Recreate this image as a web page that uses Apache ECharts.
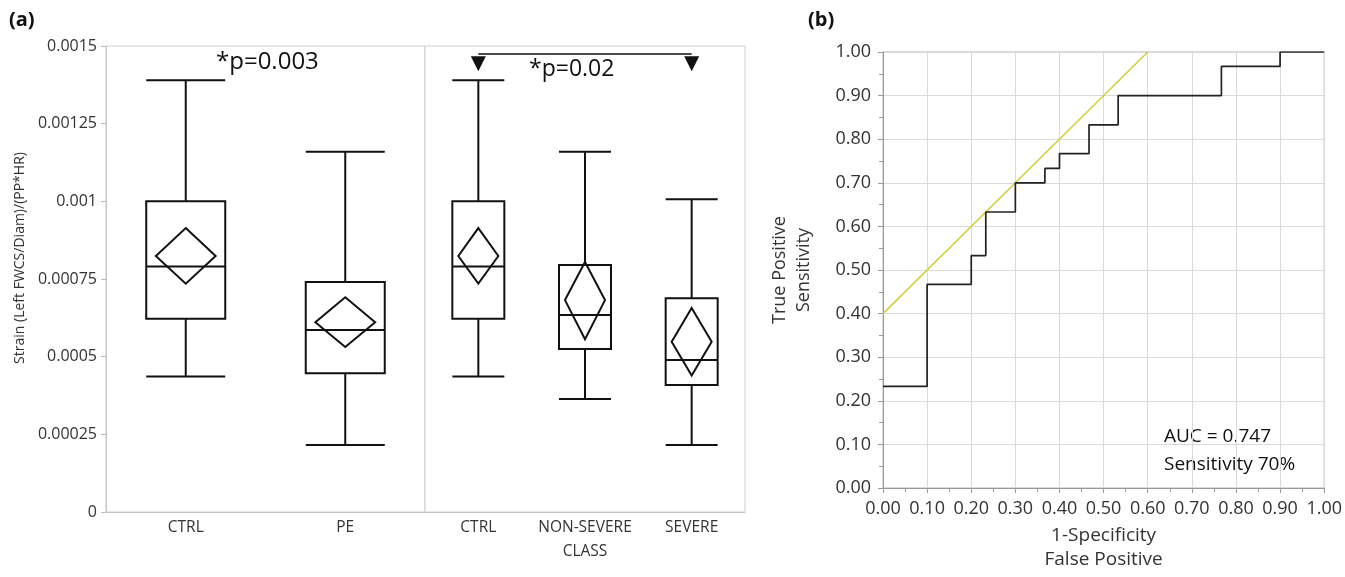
<!DOCTYPE html>
<html>
<head>
<meta charset="UTF-8">
<title>strain_roc</title>
<script src="https://cdn.jsdelivr.net/npm/echarts@6/dist/echarts.min.js"></script>
<style>
  html, body { margin: 0; padding: 0; background: #fff; }
  #main { width: 1345px; height: 577px; }
</style>
</head>
<body>
<div id="main"></div>
<script>
// panel (a) data
var leftCats = ['CTRL', 'PE'];
var rightCats = ['CTRL', 'NON-SEVERE', 'SEVERE'];
// [min, Q1, median, Q3, max]
var leftBoxes = [
  [0.000436, 0.000622, 0.00079, 0.001, 0.00139],
  [0.000216, 0.000447, 0.000586, 0.00074, 0.00116]
];
var rightBoxes = [
  [0.000436, 0.000622, 0.00079, 0.001, 0.00139],
  [0.000364, 0.000525, 0.000634, 0.000795, 0.00116],
  [0.000216, 0.000409, 0.000489, 0.000688, 0.001007]
];
// mean diamonds [lower, mean, upper]
var leftDiamonds = [
  [0.000735, 0.000824, 0.000914],
  [0.000531, 0.000611, 0.000691]
];
var rightDiamonds = [
  [0.000735, 0.000824, 0.000914],
  [0.000556, 0.000682, 0.000805],
  [0.000439, 0.000548, 0.000657]
];
var strainTicks = ['0', '0.00025', '0.0005', '0.00075', '0.001', '0.00125', '0.0015'];
var bracketLevel = 0.001474;
var arrowLevel = 0.001443;

// panel (b) data
var rocFpr = [0, 0.1, 0.2, 0.233, 0.3, 0.367, 0.4, 0.467, 0.533, 0.767, 0.9, 1.0];
var rocTpr = [0.233, 0.467, 0.533, 0.633, 0.7, 0.733, 0.767, 0.833, 0.9, 0.967, 1.0, 1.0];
var tangentX = [0, 0.6];
var tangentY = [0.4, 1.0];
var rocTicks = ['0.00','0.10','0.20','0.30','0.40','0.50','0.60','0.70','0.80','0.90','1.00'];

var FONT = '"Open Sans", "Noto Sans", sans-serif';

function withIndex(arr) {
  return arr.map(function (d, i) { return [i].concat(d); });
}

function diamond(params, api) {
  var x = api.value(0);
  var c = api.coord([x, api.value(2)]);
  var lo = api.coord([x, api.value(1)]);
  var hi = api.coord([x, api.value(3)]);
  var hw = api.size([1, 0])[0] * 0.1875;
  return {
    type: 'polygon',
    shape: { points: [[c[0], hi[1]], [c[0] + hw, c[1]], [c[0], lo[1]], [c[0] - hw, c[1]]] },
    style: { fill: 'none', stroke: '#111', lineWidth: 2 }
  };
}

var rocData = rocFpr.map(function (x, i) { return [x, rocTpr[i]]; });
var tangentData = tangentX.map(function (x, i) { return [x, tangentY[i]]; });

var myChart = echarts.init(document.getElementById('main'));
var option = {
  animation: false,
  textStyle: { fontFamily: FONT },
  grid: [
    { left: 106, top: 46, width: 319, height: 466, show: true, borderColor: '#cfcfcf', borderWidth: 1 },
    { left: 425, top: 46, width: 320, height: 466, show: true, borderColor: '#cfcfcf', borderWidth: 1 },
    { left: 883, top: 52, width: 445, height: 447, show: true, borderColor: '#b4b4b4', borderWidth: 1 }
  ],
  xAxis: [
    {
      type: 'category', gridIndex: 0, data: leftCats,
      axisLine: { lineStyle: { color: '#c4c4c4' } }, axisTick: { show: false },
      axisLabel: { color: '#333', fontSize: 15.5, margin: 8, interval: 0, fontFamily: FONT },
      splitLine: { show: false }
    },
    {
      type: 'category', gridIndex: 1, data: rightCats,
      name: 'CLASS', nameLocation: 'middle', nameGap: 32,
      nameTextStyle: { color: '#333', fontSize: 15.5, fontFamily: FONT },
      axisLine: { lineStyle: { color: '#c4c4c4' } }, axisTick: { show: false },
      axisLabel: { color: '#333', fontSize: 15.5, margin: 8, interval: 0, fontFamily: FONT },
      splitLine: { show: false }
    },
    {
      type: 'value', gridIndex: 2, min: 0, max: 1, interval: 0.1,
      name: '1-Specificity\nFalse Positive', nameLocation: 'middle', nameGap: 36,
      nameTextStyle: { color: '#333', fontSize: 19, lineHeight: 24, fontFamily: FONT },
      axisLine: { lineStyle: { color: '#9a9a9a' } },
      axisTick: { show: true, length: 5, lineStyle: { color: '#9a9a9a' } },
      minorTick: { show: true, splitNumber: 2, length: 4, lineStyle: { color: '#9a9a9a' } },
      axisLabel: { color: '#333', fontSize: 18, margin: 12, fontFamily: FONT,
        formatter: function (v, i) { return rocTicks[i]; } },
      splitLine: { show: true, lineStyle: { color: '#dadada', width: 1 } }
    }
  ],
  yAxis: [
    {
      type: 'value', gridIndex: 0, min: 0, max: 0.0015, interval: 0.00025,
      axisLine: { show: true, lineStyle: { color: '#c4c4c4' } },
      axisTick: { show: true, length: 5, lineStyle: { color: '#bbb' } },
      axisLabel: { color: '#333', fontSize: 16, margin: 9, fontFamily: FONT,
        formatter: function (v, i) { return strainTicks[i]; } },
      splitLine: { show: false }
    },
    {
      type: 'value', gridIndex: 1, min: 0, max: 0.0015, interval: 0.00025,
      axisLine: { show: true, lineStyle: { color: '#e4e4e4' } },
      axisTick: { show: false }, axisLabel: { show: false },
      splitLine: { show: false }
    },
    {
      type: 'value', gridIndex: 2, min: 0, max: 1, interval: 0.1,
      name: 'True Positive\nSensitivity', nameLocation: 'middle', nameGap: 67,
      nameTextStyle: { color: '#333', fontSize: 18, lineHeight: 24, fontFamily: FONT },
      axisLine: { show: true, lineStyle: { color: '#9a9a9a' } },
      axisTick: { show: true, length: 5, lineStyle: { color: '#9a9a9a' } },
      minorTick: { show: true, splitNumber: 2, length: 4, lineStyle: { color: '#9a9a9a' } },
      axisLabel: { color: '#333', fontSize: 18, margin: 12, fontFamily: FONT,
        formatter: function (v, i) { return rocTicks[i]; } },
      splitLine: { show: true, lineStyle: { color: '#dadada', width: 1 } }
    }
  ],
  series: [
    {
      type: 'boxplot', xAxisIndex: 0, yAxisIndex: 0, data: leftBoxes,
      boxWidth: [79, 79], silent: true,
      itemStyle: { color: 'rgba(0,0,0,0)', borderColor: '#111', borderWidth: 2 }
    },
    {
      type: 'boxplot', xAxisIndex: 1, yAxisIndex: 1, data: rightBoxes,
      boxWidth: [52, 52], silent: true,
      itemStyle: { color: 'rgba(0,0,0,0)', borderColor: '#111', borderWidth: 2 },
      markLine: {
        silent: true, symbol: ['none', 'none'],
        lineStyle: { color: '#111', width: 1.5, type: 'solid' },
        label: { show: false },
        data: [[{ coord: ['CTRL', bracketLevel] }, { coord: ['SEVERE', bracketLevel] }]]
      },
      markPoint: {
        silent: true, symbol: 'triangle', symbolRotate: 180, symbolSize: 15,
        itemStyle: { color: '#111' }, label: { show: false },
        data: [{ coord: ['CTRL', arrowLevel] }, { coord: ['SEVERE', arrowLevel] }]
      }
    },
    {
      type: 'custom', xAxisIndex: 0, yAxisIndex: 0, data: withIndex(leftDiamonds),
      renderItem: diamond, encode: { x: 0, y: [1, 2, 3] }, silent: true
    },
    {
      type: 'custom', xAxisIndex: 1, yAxisIndex: 1, data: withIndex(rightDiamonds),
      renderItem: diamond, encode: { x: 0, y: [1, 2, 3] }, silent: true
    },
    {
      type: 'line', xAxisIndex: 2, yAxisIndex: 2, data: tangentData,
      symbol: 'none', silent: true,
      lineStyle: { color: '#d3cf3c', width: 1.5 }
    },
    {
      type: 'line', xAxisIndex: 2, yAxisIndex: 2, data: rocData,
      step: 'end', symbol: 'none', silent: true,
      lineStyle: { color: '#222', width: 1.7 }
    }
  ],
  graphic: [
    { type: 'text', left: 9, top: 10, style: { text: '(a)', font: 'bold 20px ' + FONT, fill: '#111' } },
    { type: 'text', left: 808, top: 10, style: { text: '(b)', font: 'bold 20px ' + FONT, fill: '#111' } },
    { type: 'text', left: 216, top: 50, style: { text: '*p=0.003', font: '24px ' + FONT, fill: '#111' } },
    { type: 'text', left: 529, top: 58, style: { text: '*p=0.02', font: '23px ' + FONT, fill: '#111' } },
    {
      type: 'text', x: 20, y: 258, rotation: Math.PI / 2,
      style: { text: 'Strain (Left FWCS/Diam)/(PP*HR)', font: '14px ' + FONT, fill: '#333',
        align: 'center', verticalAlign: 'middle' }
    },
    { type: 'text', left: 1164, top: 423, style: { text: 'AUC = 0.747\nSensitivity 70%', font: '19px ' + FONT, lineHeight: 28, fill: '#111' } }
  ]
};
myChart.setOption(option);
</script>
</body>
</html>
